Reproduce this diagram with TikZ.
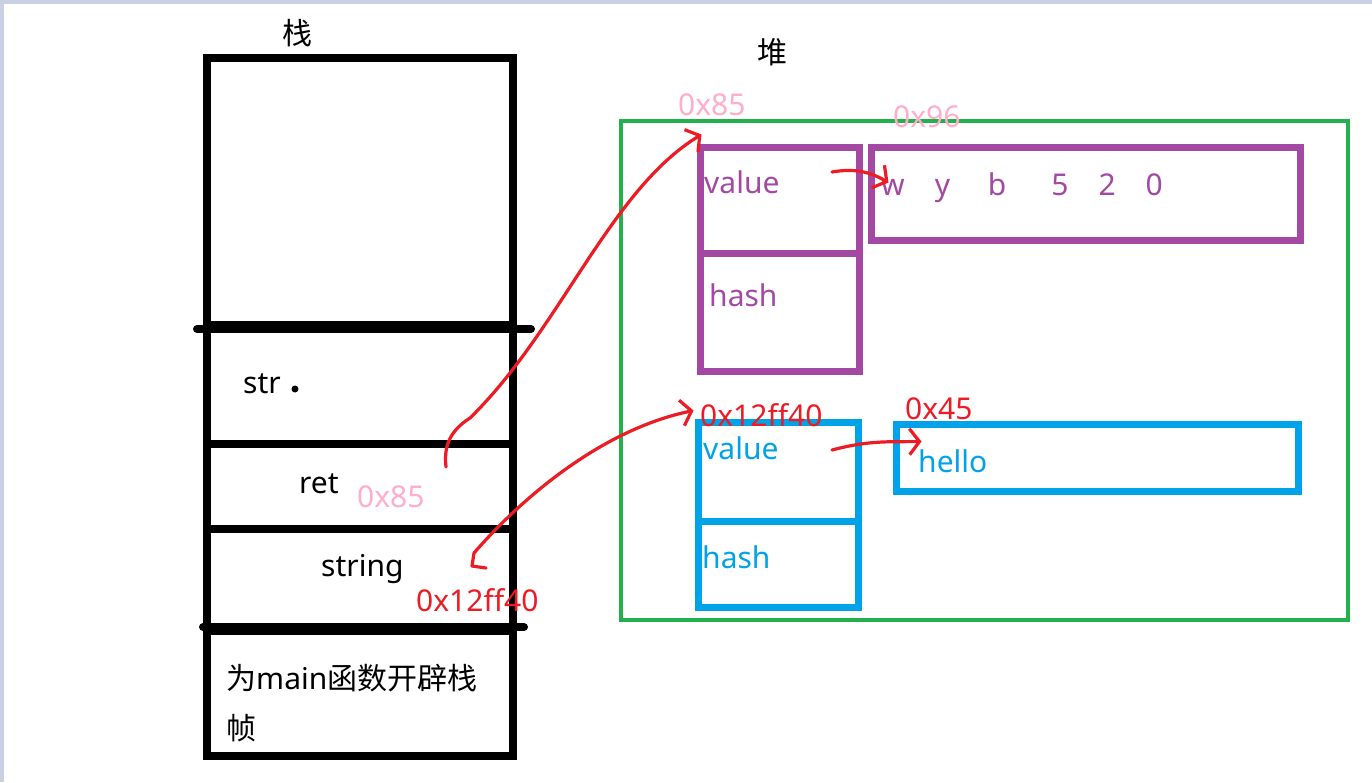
\documentclass[tikz,border=0pt]{standalone}
\usepackage{fontspec}
\setmainfont{Noto Sans}
\newfontfamily\cjk{Noto Sans CJK SC}
\usetikzlibrary{positioning,arrows.meta}
\definecolor{hpurple}{RGB}{163,73,164}
\definecolor{hblue}{RGB}{0,162,232}
\definecolor{hgreen}{RGB}{34,177,76}
\definecolor{hred}{RGB}{237,28,36}
\definecolor{hpink}{RGB}{255,174,201}
\definecolor{hframe}{RGB}{200,208,226}

\begin{document}
\begin{tikzpicture}[x=1pt, y=-1pt, font=\fontsize{30}{34}\selectfont,
  cell/.style={draw, line width=8pt, inner sep=0pt, minimum width=306},
  pbox/.style={draw=hpurple, line width=7pt, inner sep=0pt},
  bbox/.style={draw=hblue, line width=7pt, inner sep=0pt},
  lbl/.style={anchor=west, inner sep=0pt},
  hand/.style={draw=hred, line width=3.2pt, line cap=round, line join=round,
    -{Straight Barb[length=10pt, width=26pt]}}]
  \fill[white] (0,0) rectangle (1372,782);
  \fill[hframe] (0,0) rectangle (1372,4);
  \fill[hframe] (0,0) rectangle (4,782);
  \useasboundingbox (0,0) rectangle (1372,782);

  % stack
  \node (stacklbl) at (297,33) {\cjk 栈};
  \node[cell, minimum height=267] (top) at (360,191.5) {};
  \node[cell, minimum height=119] (strc) at (360,384.5) {};
  \node[cell, minimum height=85] (retc) at (360,486.5) {};
  \node[cell, minimum height=102] (strgc) at (360,580) {};
  \node[cell, minimum height=125] (mainc) at (360,693.5) {};
  \draw[line width=8pt, line cap=round] ([xshift=-6pt]top.south west) -- ([xshift=14pt]top.south east);
  \draw[line width=8pt, line cap=round] (mainc.north west) -- ([xshift=7pt]mainc.north east);

  \node[lbl] (strt) at (243,384) {str};
  \fill (295,389) circle (3.5);
  \node[lbl] (rett) at (299,484) {ret};
  \node[lbl, text=hpink] (reta) at (357,497) {0x85};
  \node[lbl] (strgt) at (321,569) {string};
  \node[lbl, text=hred] (strga) at (416,600) {0x12ff40};
  \node[lbl] (maint) at (226,678) {{\cjk 为}main{\cjk 函数开辟栈}};
  \node[lbl] (maint2) at (226,728) {\cjk 帧};

  % heap
  \node (heaplbl) at (772,52) {\cjk 堆};
  \node[draw=hgreen, line width=4pt, inner sep=0pt, minimum width=727, minimum height=499] (heap) at (984.5,370.5) {};

  \node[pbox, minimum width=159, minimum height=106] (pv) at (779.5,200) {};
  \node[pbox, minimum width=159, minimum height=118] (ph) at (779.5,312) {};
  \node[pbox, minimum width=429, minimum height=93] (pdata) at (1085.5,193.5) {};
  \node[lbl, text=hpurple] (pvt) at (704,182) {value};
  \node[lbl, text=hpurple] (pht) at (709,295) {hash};
  \node[lbl, text=hpurple] (pdt) at (881,188) {w\quad y\quad\ b\quad\enspace 5\quad 2\quad 0};
  \node[lbl, text=hpink] (pva) at (678,105) {0x85};
  \node[lbl, text=hpink] (pda) at (893,117) {0x96};

  \node[bbox, minimum width=160, minimum height=99] (bv) at (778,471.5) {};
  \node[bbox, minimum width=160, minimum height=86] (bh) at (778,564) {};
  \node[bbox, minimum width=402, minimum height=67] (bdata) at (1097,457.5) {};
  \node[lbl, text=hblue] (bvt) at (703,448) {value};
  \node[lbl, text=hblue] (bht) at (702,557) {hash};
  \node[lbl, text=hblue] (bdt) at (918,461) {hello};
  \node[lbl, text=hred] (bva) at (700,415) {0x12ff40};
  \node[lbl, text=hred] (bda) at (905,409) {0x45};

  % pointers
  \coordinate (retp) at (446,467);
  \coordinate (strgp) at (486,568);
  \coordinate (pvp) at (832,172);
  \coordinate (bvp) at (832,450);
  \coordinate (pvin) at ([shift={(5,-9)}]pv.north west);
  \coordinate (bvin) at ([shift={(-1,-8)}]bv.north west);
  \coordinate (pdin) at ([shift={(21,-11)}]pdata.west);
  \coordinate (bdin) at ([shift={(29,-16)}]bdata.west);
  \draw[hand] (retp) .. controls (444,448) and (448,432) .. (470,418)
    .. controls (560,330) and (610,190) .. (pvin);
  \draw[hand] (strgp) -- (472,566) -- (474,553)
    .. controls (520,500) and (600,430) .. (bvin);
  \draw[hand] (pvp) .. controls (855,168) and (870,172) .. (pdin);
  \draw[hand] (bvp) .. controls (870,440) and (890,442) .. (bdin);
\end{tikzpicture}
\end{document}
